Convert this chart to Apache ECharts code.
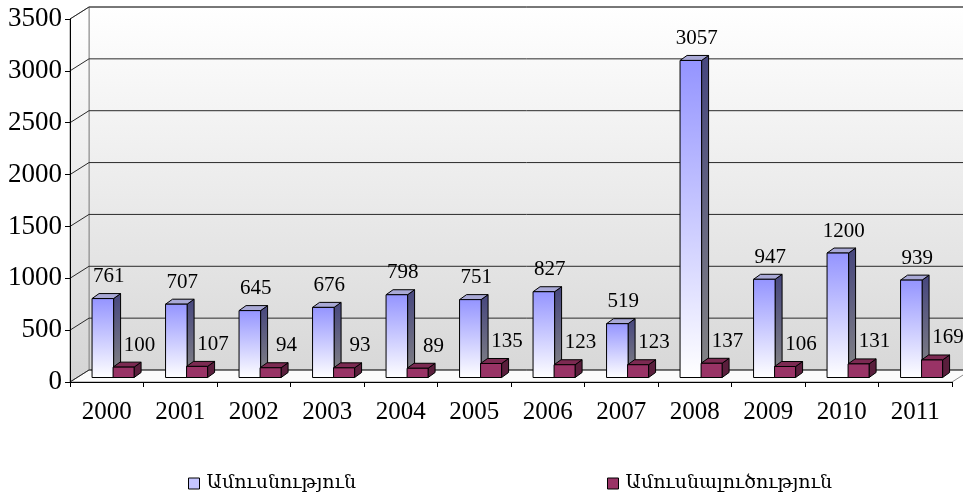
<!DOCTYPE html>
<html>
<head>
<meta charset="utf-8">
<script src="https://cdn.jsdelivr.net/npm/echarts@6/dist/echarts.min.js"></script>
<style>html,body{margin:0;padding:0;background:#fff}#c{width:963px;height:495px}</style>
</head>
<body>
<div id="c"></div>
<script>
var years = ['2000','2001','2002','2003','2004','2005','2006','2007','2008','2009','2010','2011'];
var marriages = [761, 707, 645, 676, 798, 751, 827, 519, 3057, 947, 1200, 939];
var divorces = [100, 107, 94, 93, 89, 135, 123, 123, 137, 106, 131, 169];
var yTicks = [0, 500, 1000, 1500, 2000, 2500, 3000, 3500];
var seriesNames = ['Ամուսնություն', 'Ամուսնալուծություն'];

var FONT = '"Liberation Serif", "DejaVu Serif", "Times New Roman", serif';
var G = echarts.graphic;
var DX = 19, DY = -12;       // wall depth
var BDX = 7, BDY = -5;       // bar depth
var BAR_SHIFT_Y = -4.5;      // bar placement in depth

function barRenderer(offFrac, wFrac, cols, labelDx) {
  return function (params, api) {
    var cat = api.value(0), val = api.value(1);
    var bw = api.size([1, 0])[0];
    var base = api.coord([cat, 0]);
    var top = api.coord([cat, val]);
    var left = base[0] - bw / 2 + bw * offFrac;
    var w = bw * wFrac;
    var yb = base[1] + BAR_SHIFT_Y;
    var yt = top[1] + BAR_SHIFT_Y;
    var stroke = {stroke: '#000', lineWidth: 1};
    return {
      type: 'group',
      children: [
        {type: 'polygon', shape: {points: [[left + w, yt], [left + w + BDX, yt + BDY], [left + w + BDX, yb + BDY], [left + w, yb]]},
          style: Object.assign({fill: new G.LinearGradient(0, 0, 0, 1, [{offset: 0, color: cols.side0}, {offset: 1, color: cols.side1}])}, stroke)},
        {type: 'polygon', shape: {points: [[left, yt], [left + BDX, yt + BDY], [left + w + BDX, yt + BDY], [left + w, yt]]},
          style: Object.assign({fill: cols.top}, stroke)},
        {type: 'rect', shape: {x: left, y: yt, width: w, height: yb - yt},
          style: Object.assign({fill: new G.LinearGradient(0, 0, 0, 1, [{offset: 0, color: cols.front0}, {offset: 1, color: cols.front1}])}, stroke)},
        {type: 'text', z2: 100, style: {text: String(val), x: left + w / 2 + labelDx, y: yt - 22, align: 'center', verticalAlign: 'middle',
          font: '21px ' + FONT, fill: '#000'}}
      ]
    };
  };
}

var chart = echarts.init(document.getElementById('c'), null, {renderer: 'canvas'});
var option = {
  animation: false,
  backgroundColor: '#fff',
  grid: {left: 70, right: 11, top: 19, bottom: 113, containLabel: false},
  xAxis: {
    type: 'category', data: years, boundaryGap: true,
    axisLine: {show: true, lineStyle: {color: '#000', width: 1}},
    axisTick: {show: true, length: 5, lineStyle: {color: '#000'}},
    axisLabel: {fontFamily: FONT, fontSize: 25, color: '#000', margin: 18},
    splitLine: {show: false}, z: 20
  },
  yAxis: {
    type: 'value', min: 0, max: 3500, interval: 500,
    axisLine: {show: true, lineStyle: {color: '#000', width: 1}},
    axisTick: {show: true, length: 5, lineStyle: {color: '#000'}},
    axisLabel: {fontFamily: FONT, fontSize: 27, color: '#000', margin: 8, formatter: function (v) { return String(v); }},
    splitLine: {show: false}, z: 20
  },
  legend: [
    {left: 183, top: 469, icon: 'rect', itemWidth: 11, itemHeight: 11,
      textStyle: {fontFamily: FONT, fontSize: 19, color: '#000', padding: [0, 0, 0, 2]},
      data: [{name: seriesNames[0], itemStyle: {color: '#c4c4ff', borderColor: '#000', borderWidth: 1}}]},
    {left: 602, top: 469, icon: 'rect', itemWidth: 11, itemHeight: 11,
      textStyle: {fontFamily: FONT, fontSize: 19, color: '#000', padding: [0, 0, 0, 2]},
      data: [{name: seriesNames[1], itemStyle: {color: '#993366', borderColor: '#000', borderWidth: 1}}]}
  ],
  series: [
    {
      type: 'custom', name: 'walls', silent: true, z: 1, data: [[0, 0]],
      encode: {x: 0, y: 1},
      renderItem: function (params, api) {
        var cs = params.coordSys;
        var x = cs.x, y = cs.y, w = cs.width, h = cs.height;
        return {type: 'group', children: [
          {type: 'polygon', shape: {points: [[x + DX, y + DY], [x + w + DX, y + DY], [x + w + DX, y + h + DY], [x + DX, y + h + DY]]},
            style: {fill: new G.LinearGradient(0, 0, 0, 1, [{offset: 0, color: '#ffffff'}, {offset: 1, color: '#d8d8d8'}]), stroke: '#8c8c8c', lineWidth: 1}},
          {type: 'polygon', shape: {points: [[x, y], [x + DX, y + DY], [x + DX, y + h + DY], [x, y + h]]},
            style: {fill: new G.LinearGradient(0, 0, 0, 1, [{offset: 0, color: '#ffffff'}, {offset: 1, color: '#d4d4d4'}]), stroke: '#8c8c8c', lineWidth: 1}},
          {type: 'polygon', shape: {points: [[x, y + h], [x + DX, y + h + DY], [x + w + DX, y + h + DY], [x + w, y + h]]},
            style: {fill: '#fbfbfb', stroke: '#8c8c8c', lineWidth: 1}}
        ]};
      }
    },
    {
      type: 'custom', name: 'grid', silent: true, z: 2,
      data: yTicks.map(function (v) { return [0, v]; }),
      encode: {x: 0, y: 1},
      renderItem: function (params, api) {
        var cs = params.coordSys;
        var yp = api.coord([0, api.value(1)])[1];
        return {type: 'polyline', shape: {points: [[cs.x, yp], [cs.x + DX, yp + DY], [cs.x + cs.width + DX, yp + DY]]},
          style: {stroke: '#2a2a2a', lineWidth: 1, fill: null}};
      }
    },
    {
      type: 'custom', name: seriesNames[0], z: 5,
      itemStyle: {color: '#c4c4ff'},
      data: marriages.map(function (v, i) { return [i, v]; }),
      encode: {x: 0, y: 1},
      renderItem: barRenderer(0.30, 0.293, {front0: '#9494ff', front1: '#ffffff', side0: '#46467e', side1: '#858585', top: '#a9a9d6'}, 6)
    },
    {
      type: 'custom', name: seriesNames[1], z: 6,
      itemStyle: {color: '#993366'},
      data: divorces.map(function (v, i) { return [i, v]; }),
      encode: {x: 0, y: 1},
      renderItem: barRenderer(0.586, 0.286, {front0: '#993366', front1: '#993366', side0: '#5a1e3c', side1: '#5a1e3c', top: '#7c2a52'}, 16)
    }
  ]
};
chart.setOption(option);
</script>
</body>
</html>
